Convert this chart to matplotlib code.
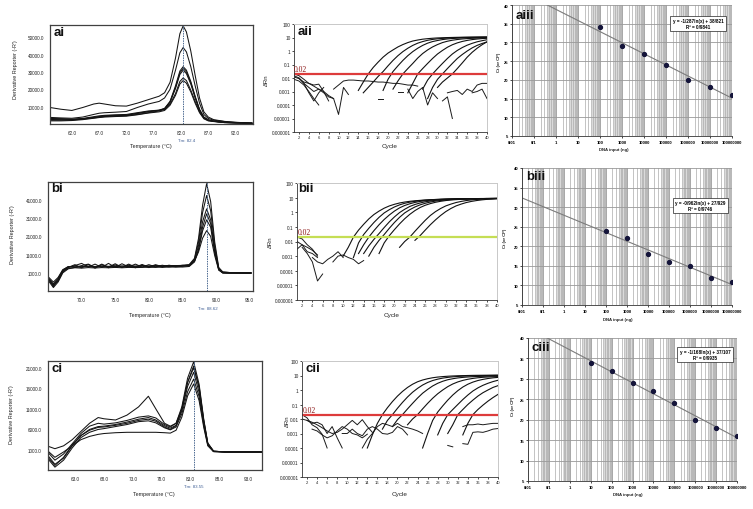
import numpy as np
import matplotlib
matplotlib.use('Agg')
import matplotlib.pyplot as plt
from matplotlib.ticker import FixedLocator, NullLocator, LogLocator, NullFormatter

plt.rcParams['font.family'] = ['Liberation Sans', 'DejaVu Sans']

# ---------------- melt curves (derivative reporter vs temperature) ----------------
ai_temp = [58, 60, 62, 64, 66, 67, 68, 70, 72, 74, 76, 78, 79, 80, 81, 81.8, 82.4, 83, 83.8,
           84.6, 85.4, 86.2, 87, 88, 90, 92, 95]
ai_curves = [
    [9500, 8500, 7800, 9500, 11500, 12000, 11500, 10500, 10300, 12000, 14000, 16000, 18000, 24000,
     38000, 52000, 56500, 53000, 42000, 28000, 15000, 7000, 4000, 2500, 1500, 1000, 500],
    [3800, 3500, 3300, 4000, 5500, 6200, 6500, 6800, 7200, 9500, 11500, 13000, 15000, 20000,
     31000, 41000, 44000, 41500, 33000, 22000, 12000, 5500, 3200, 2200, 1400, 900, 500],
    [3000, 3000, 2800, 3200, 4200, 4700, 5000, 5300, 5500, 6500, 7500, 8000, 9000, 13000,
     22000, 30500, 33000, 31000, 24500, 16000, 8500, 4000, 2400, 1700, 1000, 800, 500],
    [2200, 2200, 2300, 2800, 3500, 3900, 4300, 4800, 5000, 6000, 7000, 7800, 8800, 12500,
     20500, 28500, 31000, 29000, 23000, 15000, 8000, 3700, 2200, 1600, 900, 700, 400],
    [3200, 3000, 2600, 3000, 3800, 4200, 4500, 4500, 4800, 5500, 6500, 7500, 8300, 11500,
     17500, 24500, 26500, 25000, 19500, 13000, 7000, 3300, 2000, 1500, 800, 600, 400],
    [1800, 1800, 2000, 2500, 3300, 3700, 4000, 4300, 4500, 5300, 6300, 7000, 7800, 10800,
     16500, 23000, 25000, 23500, 18500, 12000, 6500, 3000, 1800, 1400, 800, 600, 400],
    [2600, 2500, 2400, 2900, 3800, 4300, 4800, 5000, 5200, 6200, 7200, 7900, 8700, 12800,
     21000, 29500, 32000, 30000, 23800, 15500, 8200, 3800, 2300, 1600, 900, 700, 400],
]
ai_tm = 82.4

bi_temp = [65, 65.8, 66.5, 67.2, 68, 69, 70, 71, 72, 73, 74, 75, 76, 77, 78, 79, 80, 81, 82, 83,
           84, 85, 86, 86.8, 87.4, 88, 88.6, 89.2, 89.8, 90.4, 91, 92, 93, 94, 95.2]
bi_curves = [
    [-2000, -6500, -3000, 2000, 4000, 5000, 6200, 4200, 5800, 4000, 6200, 4000, 6000, 4300, 5800,
     4200, 5500, 4300, 5200, 4500, 5000, 4800, 5500, 9000, 20000, 38000, 49800, 40000, 18000,
     4000, 1500, 1200, 1100, 1000, 1000],
    [-1500, -5000, -2000, 2500, 4500, 4000, 5000, 5800, 4000, 5800, 4200, 6000, 4000, 5800, 4200,
     5600, 4200, 5500, 4400, 5200, 4600, 5200, 5200, 8500, 18000, 34000, 43300, 35000, 16000,
     3500, 1500, 1200, 1100, 1000, 1000],
    [-3000, -7000, -4000, 1000, 3200, 4000, 4300, 4500, 4200, 4600, 4400, 4500, 4700, 4500, 4600,
     4800, 4500, 4700, 4600, 4800, 4700, 4900, 5000, 8000, 16000, 29000, 36000, 30000, 14000,
     3000, 1200, 1000, 1000, 1000, 1000],
    [-2500, -5500, -3500, 1500, 3500, 3800, 3600, 3900, 3700, 3900, 3800, 4000, 3800, 4000, 3900,
     4000, 4100, 4000, 4200, 4100, 4300, 4200, 4500, 7000, 14000, 26000, 33300, 28000, 13000,
     2800, 1000, 900, 900, 900, 900],
    [-1000, -4000, -1500, 2800, 4300, 4600, 4400, 4700, 4500, 4800, 4600, 4800, 4700, 4900, 4700,
     4900, 4800, 5000, 4900, 5000, 5000, 5100, 5400, 7500, 12500, 20000, 24100, 21000, 10500,
     2500, 1000, 900, 900, 900, 900],
    [-2000, -6000, -2500, 2000, 4000, 5500, 3800, 5600, 3600, 5500, 3800, 5400, 3900, 5300, 3800,
     5200, 3900, 5000, 4000, 4800, 4200, 4600, 4800, 7500, 13500, 24000, 30000, 26000, 12000,
     2800, 1000, 900, 900, 900, 900],
]
bi_tm = 88.62

ci_temp = [58.3, 59.5, 61, 62.5, 64, 65.5, 67, 68, 70, 72, 74, 75.7, 77, 78.5, 79.5, 80.5, 81.5,
           82.5, 83.55, 84.5, 85.3, 86, 87, 89, 92, 95.4]
ci_curves = [
    [1900, 1300, 2000, 3500, 5500, 7500, 8900, 8600, 8300, 9500, 11500, 14100, 11000, 7500, 6800,
     7500, 11000, 17500, 21500, 16000, 8000, 2500, 700, 500, 500, 500],
    [400, -1500, 0, 2500, 5000, 6800, 7500, 7300, 7600, 8200, 9000, 9300, 8800, 7200, 6600, 7500,
     11500, 18500, 22500, 17000, 8500, 2700, 700, 500, 500, 500],
    [-400, -2500, -1000, 2000, 4500, 6000, 6700, 6800, 7200, 7800, 8500, 8900, 8300, 6900, 6300,
     7000, 10500, 16500, 19950, 15000, 7500, 2400, 600, 500, 500, 500],
    [-1200, -3200, -1500, 1500, 4000, 5300, 6000, 6200, 6700, 7200, 7900, 8100, 7600, 6400, 5900,
     6600, 9800, 15200, 18300, 14000, 7000, 2200, 600, 500, 500, 500],
    [700, -800, 500, 2000, 3500, 4300, 4800, 5000, 5200, 5300, 5300, 5300, 5300, 5200, 5100, 5800,
     9000, 14200, 17100, 13000, 6500, 2000, 600, 500, 500, 500],
    [-800, -2800, -800, 2200, 4500, 5800, 6500, 6600, 7000, 7500, 8200, 8500, 8000, 6600, 6000,
     6900, 11000, 17500, 21000, 16500, 8200, 2600, 700, 500, 500, 500],
]
ci_tm = 83.55

# ---------------- amplification plots (delta Rn per cycle) ----------------
aii_starts = [14, 15, 19, 21, 24, 27, 28, 30]
aii_curves = [
    [0.0012, 0.005, 0.02, 0.06, 0.15, 0.35, 0.7, 1.2, 2.0, 3.0, 4.2, 5.5, 6.5, 7.5, 8.2, 8.8, 9.3,
     9.6, 9.9, 10.1, 10.3, 10.5, 10.6, 10.7, 10.8, 10.9, 11.0],
    [0.0008, 0.002, 0.005, 0.013, 0.03, 0.08, 0.2, 0.45, 0.9, 1.6, 2.6, 3.8, 5.0, 6.2, 7.2, 8.0,
     8.6, 9.1, 9.5, 9.8, 10.0, 10.2, 10.4, 10.5, 10.6, 10.7],
    [0.0012, 0.008, 0.03, 0.08, 0.2, 0.45, 0.9, 1.6, 2.6, 3.8, 5.0, 6.0, 7.0, 7.8, 8.4, 8.9, 9.3,
     9.6, 9.8, 10.0, 10.1, 10.2],
    [0.0015, 0.006, 0.02, 0.05, 0.12, 0.3, 0.65, 1.2, 2.0, 3.0, 4.2, 5.3, 6.3, 7.1, 7.8, 8.3, 8.7,
     9.0, 9.2, 9.4],
    [0.0008, 0.004, 0.02, 0.05, 0.12, 0.28, 0.6, 1.1, 1.9, 2.9, 4.0, 5.1, 6.1, 7.0, 7.7, 8.3, 8.8],
    [0.0015, 0.007, 0.02, 0.05, 0.12, 0.28, 0.6, 1.1, 1.8, 2.7, 3.7, 4.8, 5.8, 6.8],
    [0.0003, 0.002, 0.008, 0.02, 0.05, 0.12, 0.28, 0.55, 1.0, 1.7, 2.6, 3.6, 4.7],
    [0.002, 0.005, 0.01, 0.02, 0.05, 0.13, 0.35, 0.8, 1.6, 2.9, 4.8],
]
aii_noise = [
    (1, [0.012, 0.009, 0.005, 0.004, 0.0025, 0.0015, 0.001, 0.0005, 0.0003, 0.00002, 0.002, 0.0006]),
    (1, [0.02, 0.015, 0.008, 0.004, 0.003, 0.0035, 0.001, 0.0002]),
    (1, [0.008, 0.006, 0.003, 0.001, 0.0003, 0.0001]),
    (2, [0.01, 0.004, 0.002, 0.001, 0.0015, 0.0008, 0.0004, 0.0003]),
    (1, [0.015, 0.01, 0.004, 0.0008, 0.0002, 0.0008, 0.002]),
    (9, [0.0015, 0.003, 0.006, 0.007, 0.007, 0.0065, 0.006, 0.006, 0.0055, 0.005, 0.005, 0.0045,
         0.004, 0.004, 0.0035, 0.003, 0.003, 0.0025]),
    (18, [0.0003, 0.0003]),
    (22, [0.001, 0.001]),
    (24, [0.0015, 0.0003, 0.001, 0.002, 0.0001, 0.0008, 0.0003]),
    (31, [0.0002, 0.0004, 0.00001]),
    (32, [0.0008, 0.001, 0.0012, 0.0006, 0.0015, 0.001, 0.003, 0.004, 0.004]),
    (37, [0.0008, 0.001, 0.0015, 0.0003]),
]

bii_starts = [10, 12, 13, 14, 15, 17, 21, 24]
bii_curves = [
    [0.001, 0.004, 0.02, 0.06, 0.15, 0.35, 0.7, 1.2, 1.9, 2.7, 3.5, 4.3, 5.0, 5.6, 6.1, 6.5, 6.9,
     7.2, 7.5, 7.7, 7.9, 8.0, 8.1, 8.2, 8.3, 8.4, 8.5, 8.5, 8.6, 8.6, 8.7],
    [0.0008, 0.008, 0.03, 0.08, 0.2, 0.45, 0.9, 1.5, 2.3, 3.2, 4.1, 4.9, 5.6, 6.2, 6.7, 7.1, 7.4,
     7.7, 7.9, 8.1, 8.2, 8.3, 8.4, 8.5, 8.6, 8.6, 8.7, 8.7, 8.8],
    [0.0015, 0.006, 0.02, 0.055, 0.14, 0.32, 0.65, 1.2, 2.0, 2.9, 3.8, 4.7, 5.5, 6.1, 6.7, 7.1,
     7.5, 7.8, 8.0, 8.2, 8.3, 8.4, 8.5, 8.6, 8.7, 8.7, 8.8, 8.8],
    [0.0015, 0.005, 0.014, 0.035, 0.09, 0.22, 0.48, 0.95, 1.6, 2.5, 3.4, 4.3, 5.2, 5.9, 6.5, 7.0,
     7.4, 7.7, 8.0, 8.2, 8.3, 8.4, 8.5, 8.6, 8.7, 8.7, 8.8],
    [0.001, 0.004, 0.012, 0.03, 0.08, 0.2, 0.45, 0.9, 1.5, 2.3, 3.2, 4.1, 5.0, 5.8, 6.4, 6.9, 7.3,
     7.7, 8.0, 8.2, 8.4, 8.5, 8.6, 8.7, 8.8, 8.8],
    [0.0015, 0.008, 0.025, 0.065, 0.16, 0.36, 0.72, 1.3, 2.1, 3.0, 3.9, 4.8, 5.6, 6.3, 6.9, 7.3,
     7.7, 8.0, 8.2, 8.4, 8.5, 8.6, 8.7, 8.8],
    [0.004, 0.01, 0.02, 0.05, 0.12, 0.28, 0.6, 1.1, 1.8, 2.7, 3.6, 4.6, 5.5, 6.3, 7.0, 7.5, 7.9,
     8.2, 8.4, 8.6],
    [0.012, 0.025, 0.06, 0.14, 0.3, 0.6, 1.1, 1.8, 2.7, 3.6, 4.6, 5.5, 6.3, 7.0, 7.6, 8.0, 8.4],
]
bii_noise = [
    (1, [0.02, 0.015, 0.006, 0.003, 0.001]),
    (1, [0.003, 0.006, 0.002, 0.0015, 0.0008]),
    (1, [0.01, 0.006, 0.004, 0.0025, 0.0012]),
    (2, [0.004, 0.0015, 0.0004, 0.00002, 0.00006]),
    (4, [0.0008, 0.0004, 0.0003, 0.0006, 0.001, 0.002, 0.0008]),
    (8, [0.0004, 0.001, 0.0012, 0.0008, 0.0006, 0.0003, 0.0005]),
]

cii_starts = [14, 17, 19, 22, 25, 28, 30, 33]
cii_curves = [
    [0.0001, 0.0008, 0.005, 0.02, 0.06, 0.16, 0.38, 0.8, 1.5, 2.5, 3.7, 4.9, 6.0, 7.0, 7.8, 8.4,
     8.9, 9.3, 9.6, 9.8, 10.0, 10.2, 10.3, 10.4, 10.5, 10.6, 10.7],
    [0.002, 0.008, 0.02, 0.055, 0.14, 0.33, 0.7, 1.3, 2.2, 3.3, 4.5, 5.6, 6.6, 7.4, 8.1, 8.6, 9.0,
     9.3, 9.5, 9.7, 9.8, 9.9, 10.0, 10.1],
    [0.003, 0.009, 0.02, 0.05, 0.12, 0.28, 0.6, 1.1, 1.9, 2.9, 4.0, 5.1, 6.0, 6.8, 7.4, 7.9, 8.3,
     8.6, 8.8, 9.0, 9.1, 9.2],
    [0.004, 0.01, 0.02, 0.05, 0.12, 0.27, 0.55, 1.0, 1.7, 2.6, 3.6, 4.6, 5.5, 6.3, 7.0, 7.5, 7.9,
     8.2, 8.4],
    [0.0001, 0.001, 0.008, 0.03, 0.08, 0.2, 0.45, 0.9, 1.6, 2.5, 3.5, 4.5, 5.4, 6.2, 6.9, 7.4],
    [0.0008, 0.005, 0.02, 0.045, 0.1, 0.22, 0.45, 0.85, 1.4, 2.1, 2.9, 3.8, 4.7],
    [0.001, 0.004, 0.02, 0.045, 0.1, 0.2, 0.38, 0.65, 1.0, 1.5, 2.0],
    [0.0008, 0.005, 0.02, 0.045, 0.09, 0.17, 0.3, 0.5],
]
cii_noise = [
    (1, [0.01, 0.008, 0.006, 0.004, 0.0025, 0.0015, 0.001, 0.0012, 0.002, 0.004, 0.008, 0.004,
         0.009, 0.003, 0.0012]),
    (1, [0.02, 0.012, 0.004, 0.0025, 0.0009, 0.0001]),
    (2, [0.008, 0.005, 0.006, 0.004, 0.001, 0.003, 0.0005, 0.0001]),
    (3, [0.002, 0.0015, 0.0008, 0.0005, 0.0007, 0.0015, 0.003, 0.002, 0.001, 0.0008, 0.0005,
         0.0009]),
    (13, [0.0001, 0.0004, 0.001, 0.003, 0.005, 0.004, 0.003, 0.005, 0.003, 0.0025, 0.002, 0.0015,
          0.001]),
    (9, [0.001, 0.001, 0.002, 0.001, 0.0007, 0.002, 0.003, 0.002, 0.001, 0.0009, 0.0012, 0.003,
         0.002, 0.0008]),
    (33, [0.003, 0.004, 0.004, 0.0045, 0.004, 0.0045, 0.005, 0.005]),
    (33, [0.0002, 0.00018, 0.0012, 0.0013, 0.0012, 0.0015, 0.002, 0.0022]),
    (30, [0.00015, 0.00012]),
]

# ---------------- standard curves (Ct vs DNA input) ----------------
aiii_dna = [1e2, 1e3, 1e4, 1e5, 1e6, 1e7, 1e8]
aiii_ct = [34, 29, 27, 24, 20, 18, 16]
biii_dna = [1e2, 1e3, 1e4, 1e5, 1e6, 1e7, 1e8]
biii_ct = [24, 22, 18, 16, 15, 12, 11]
ciii_dna = [1e1, 1e2, 1e3, 1e4, 1e5, 1e6, 1e7, 1e8]
ciii_ct = [34, 32, 29, 27, 24, 20, 18, 16]
dna_ticks = [1e-2, 1e-1, 1, 1e1, 1e2, 1e3, 1e4, 1e5, 1e6, 1e7, 1e8]
dna_labels = ['0/01', '0/1', '1', '10', '100', '1000', '10000', '100000', '1000000',
              '10000000', '100000000']
rn_ticks = [1e-6, 1e-5, 1e-4, 1e-3, 1e-2, 0.1, 1, 10, 100]
rn_labels = ['0.000001', '0.00001', '0.0001', '0.001', '0.01', '0.1', '1', '10', '100']

W, H = 753, 510
fig = plt.figure(figsize=(W / 100, H / 100), dpi=100)


def box(l, r, t, b):
    return [l / W, 1 - b / H, (r - l) / W, (b - t) / H]


def ptext(x, y, s, **kw):
    kw.setdefault('ha', 'center')
    kw.setdefault('va', 'center')
    fig.text(x / W, 1 - y / H, s, **kw)


def melt_panel(rect, temps, curves, tm, xlim, ylim, xticks, yticks):
    ax = fig.add_axes(rect)
    for c in curves:
        ax.plot(temps, c, color='#141414', lw=0.75)
    ax.axvline(tm, color='#4a6890', lw=0.7, ls=(0, (1.5, 1)))
    ax.set_xlim(xlim)
    ax.set_ylim(ylim)
    ax.set_xticks(xticks)
    ax.set_xticklabels([f'{v:.1f}' for v in xticks])
    ax.set_yticks(yticks)
    ax.set_yticklabels([f'{v:.1f}' for v in yticks])
    ax.tick_params(length=0, labelsize=3.3, pad=4.5, labelcolor='#222')
    for s in ax.spines.values():
        s.set_color('#404040')
        s.set_linewidth(0.9)
    return ax


def amp_panel(rect, starts, curves, noise, thr_color):
    ax = fig.add_axes(rect)
    ax.set_yscale('log')
    for s, v in noise:
        ax.plot(np.arange(s, s + len(v)), v, color='#1a1a1a', lw=0.7)
    for s, v in zip(starts, curves):
        ax.plot(np.arange(s, s + len(v)), v, color='#111111', lw=0.8)
    ax.axhline(0.02, color=thr_color, lw=1.6)
    ax.text(1.05, 0.023, '0.02', color='#8a1212', fontsize=5.5, family='Liberation Serif',
            ha='left', va='bottom')
    ax.set_xlim(1, 40)
    ax.set_ylim(1e-6, 100)
    ax.set_xticks(range(2, 41, 2))
    ax.yaxis.set_major_locator(FixedLocator(rn_ticks))
    ax.set_yticklabels(rn_labels)
    ax.yaxis.set_minor_locator(NullLocator())
    ax.tick_params(length=1.5, width=0.5, pad=1, labelsize=3.4, labelcolor='#222')
    ax.tick_params(axis='x', labelsize=3.0)
    for side in ['top', 'right']:
        ax.spines[side].set_color('#c8c8c8')
        ax.spines[side].set_linewidth(0.7)
    for side in ['left', 'bottom']:
        ax.spines[side].set_color('#333333')
        ax.spines[side].set_linewidth(0.6)
    return ax


def std_panel(rect, dna, ct, eq_xy):
    ax = fig.add_axes(rect)
    ax.set_xscale('log')
    ax.set_xlim(0.01, 1e8)
    ax.set_ylim(5, 40)
    ax.xaxis.set_major_locator(FixedLocator(dna_ticks))
    ax.set_xticklabels(dna_labels)
    ax.xaxis.set_minor_locator(LogLocator(base=10, subs=np.arange(2, 10), numticks=40))
    ax.xaxis.set_minor_formatter(NullFormatter())
    ax.set_yticks(range(5, 41, 5))
    # dense minor gridlines merge into grey bands toward the top of each decade
    for d in dna_ticks[:-1]:
        ax.axvspan(4.5 * d, 10 * d, color='#dadada', lw=0, zorder=0)
    ax.grid(which='minor', axis='x', color='#ababab', lw=0.5)
    ax.grid(which='major', axis='x', color='#999999', lw=0.6)
    ax.grid(which='major', axis='y', color='#999999', lw=0.6)
    ax.set_axisbelow(True)
    lx = np.log(dna)
    slope, icpt = np.polyfit(lx, ct, 1)
    r2 = np.corrcoef(lx, ct)[0, 1] ** 2
    ends = np.array([0.01, 1e8])
    ax.plot(ends, slope * np.log(ends) + icpt, color='#7c7c7c', lw=0.8)
    ax.plot(dna, ct, 'o', color='#14143a', ms=2.8)
    eq = f'y = {slope:.3f}ln(x) + {icpt:.3f}'.replace('.', '/')
    rr = f'R² = {r2:.4f}'.replace('.', '/')
    ax.text(eq_xy[0], eq_xy[1], eq + '\n' + rr, transform=ax.transAxes, ha='center',
            va='center', fontsize=3.3, fontweight='bold', linespacing=1.15,
            bbox=dict(facecolor='white', edgecolor='#222', lw=0.5, boxstyle='square,pad=0.5'))
    ax.tick_params(which='minor', length=0)
    ax.tick_params(which='major', length=1.5, width=0.5, pad=1.2, labelsize=3.0)
    for lab in ax.get_xticklabels() + ax.get_yticklabels():
        lab.set_fontweight('bold')
    for side in ['top', 'right']:
        ax.spines[side].set_visible(False)
    for side in ['left', 'bottom']:
        ax.spines[side].set_color('#333333')
        ax.spines[side].set_linewidth(0.6)
    return ax


# row a
melt_panel(box(50, 253, 26, 125), ai_temp, ai_curves, ai_tm, (58, 95.2), (0, 57000),
           [62, 67, 72, 77, 82, 87, 92], [10000, 20000, 30000, 40000, 50000])
amp_panel(box(294, 487, 25, 133), aii_starts, aii_curves, aii_noise, '#dd3b3b')
std_panel(box(512, 732, 6, 137), aiii_dna, aiii_ct, (0.845, 0.86))

# row b
melt_panel(box(48, 253, 183, 292), bi_temp, bi_curves, bi_tm, (65, 95.5), (-8900, 50700),
           [70, 75, 80, 85, 90, 95], [1000, 11000, 21000, 31000, 41000])
amp_panel(box(297, 497, 184, 301), bii_starts, bii_curves, bii_noise, '#c5de55')
std_panel(box(522, 732, 169, 306), biii_dna, biii_ct, (0.848, 0.726))

# row c
melt_panel(box(48, 262, 362, 471), ci_temp, ci_curves, ci_tm, (58.3, 95.4), (-3900, 22700),
           [63, 68, 73, 78, 83, 88, 93], [1000, 6000, 11000, 16000, 21000])
amp_panel(box(302, 498, 362, 478), cii_starts, cii_curves, cii_noise, '#dd3b3b')
std_panel(box(528, 737, 339, 482), ciii_dna, ciii_ct, (0.847, 0.885))

# axis titles and Tm readouts
lab = dict(fontsize=3.9, color='#222')
for x, y in [(151, 147), (150, 316), (154, 495)]:
    ptext(x, y, 'Temperature (°C)', **lab)
for x, y in [(15, 70), (13, 235), (12, 415)]:
    ptext(x, y, "Derivative Reporter (-R')", rotation=90, **lab)
for x, y, tm in [(187, 141, ai_tm), (208, 309, bi_tm), (194, 487, ci_tm)]:
    ptext(x, y, f'Tm: {tm}', fontsize=3.2, color='#3f5f95')
for x, y in [(390, 147), (392, 316), (400, 495)]:
    ptext(x, y, 'Cycle', fontsize=4.6, color='#222')
for x, y in [(266, 80), (270, 242), (287, 421)]:
    ptext(x, y, 'ΔRn', rotation=90, fontsize=4.3, color='#222')
for x, y in [(614, 150), (618, 320), (628, 495)]:
    ptext(x, y, 'DNA input (ng)', fontsize=3.1, fontweight='bold', color='#222')
for x, y in [(499, 62), (505, 238), (513, 406)]:
    ptext(x, y, 'Ct (or CP)', rotation=90, fontsize=3.0, fontweight='bold', color='#222')

# panel tags
for x, y, s in [(54, 27, 'ai'), (298, 26, 'aii'), (516, 10, 'aiii'),
                (51, 183, 'bi'), (298, 183, 'bii'), (526, 171, 'biii'),
                (52, 363, 'ci'), (306, 363, 'cii'), (531, 342, 'ciii')]:
    ptext(x, y, s, ha='left', va='top', fontsize=9.5, fontweight='bold', color='#111')

fig.savefig('out.png', dpi=100)
